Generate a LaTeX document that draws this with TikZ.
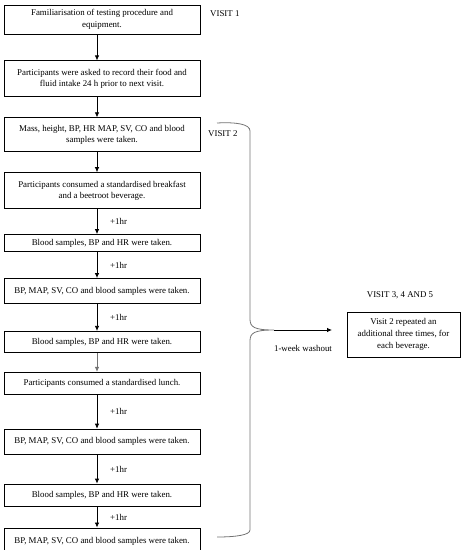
\documentclass[tikz,border=0pt]{standalone}
\usepackage{fontspec}
\setmainfont{Liberation Serif}
\usepackage{tikz}
\usetikzlibrary{arrows.meta, positioning, calc}
\tikzset{
  stepbox/.style  = {draw, line width=0.9pt, minimum width=196bp, inner sep=2bp,
                     align=center, font=\fontsize{8.9}{11.4}\selectfont, fill=white},
  sidebox/.style  = {draw, line width=0.9pt, minimum width=113bp, minimum height=45bp,
                     inner sep=2bp, align=center, font=\fontsize{8.9}{12.3}\selectfont},
  lag/.style      = {anchor=west, inner sep=0pt, font=\fontsize{8.9}{10}\selectfont},
  visit/.style    = {inner sep=0pt, font=\fontsize{8.9}{10}\selectfont},
  flow/.style     = {-{Latex[length=5bp, width=4.5bp]}, line width=0.8pt},
  brace/.style    = {line width=0.8pt, black!55},
}

\begin{document}
\begin{tikzpicture}[x=1bp, y=-1bp]
    \useasboundingbox (0,0) rectangle (464,550);
    \node[stepbox, minimum height=29bp] (fam) at (102,19.5)
      {Familiarisation of testing procedure and\\equipment.};
    \node[stepbox, minimum height=36bp, below=26bp of fam] (diet)
      {Participants were asked to record their food and\\fluid intake 24 h prior to next visit.};
    \node[stepbox, minimum height=34bp, below=20bp of diet] (base)
      {Mass, height, BP, HR MAP, SV, CO and blood\\samples were taken.};
    \node[stepbox, minimum height=36bp, below=20bp of base] (bfast)
      {Participants consumed a standardised breakfast\\and a beetroot beverage.};
    \node[stepbox, minimum height=17bp, below=25bp of bfast] (bloodA)
      {Blood samples, BP and HR were taken.};
    \node[stepbox, minimum height=25bp, below=26bp of bloodA] (haemA)
      {BP, MAP, SV, CO and blood samples were taken.};
    \node[stepbox, minimum height=21bp, below=27bp of haemA] (bloodB)
      {Blood samples, BP and HR were taken.};
    \node[stepbox, minimum height=22bp, below=19bp of bloodB] (lunch)
      {Participants consumed a standardised lunch.};
    \node[stepbox, minimum height=25bp, below=34bp of lunch] (haemB)
      {BP, MAP, SV, CO and blood samples were taken.};
    \node[stepbox, minimum height=22bp, below=29bp of haemB] (bloodC)
      {Blood samples, BP and HR were taken.};
    \node[stepbox, minimum height=26bp, below=21bp of bloodC] (haemC)
      {BP, MAP, SV, CO and blood samples were taken.};

    \node[visit, anchor=west] (visA) at (210,14) {VISIT 1};
    \node[visit, anchor=west] (visB) at (208,134) {VISIT 2};
    \node[visit] (visC) at (400,295) {VISIT 3, 4 AND 5};
    \node[sidebox] (repeat) at (403.5,334.5)
      {Visit 2 repeated an\\additional three times, for\\each beverage.};
    \node[visit] (wash) at (303,348) {1-week washout};

    \foreach \a/\b in {fam/diet, diet/base, base/bfast, bfast/bloodA, bloodA/haemA,
                       haemA/bloodB, lunch/haemB, haemB/bloodC, bloodC/haemC}
      \draw[flow] ([xshift=-5bp]\a.south) -- ([xshift=-5bp]\b.north);
    \draw[flow, black!55] ([xshift=-5bp]bloodB.south) -- ([xshift=-5bp]lunch.north);

    \foreach \a/\b in {bfast/bloodA, bloodA/haemA, haemA/bloodB,
                       lunch/haemB, haemB/bloodC, bloodC/haemC}
      \node[lag, xshift=8bp] (lag\a) at ($(\a.south)!0.5!(\b.north)$) {+1hr};

    \coordinate (tip) at (274,330);
    \coordinate (washend) at (332,330);
    \draw[brace] (217,123) .. controls (236,122) and (250,124) .. (250,131)
      -- (250,319) .. controls (250,327) and (254,330) .. (tip)
      .. controls (254,330) and (250,333) .. (250,341)
      -- (250,530) .. controls (250,535) and (236,537) .. (217,537);
    \draw[flow] (tip) -- (washend);
\end{tikzpicture}
\end{document}
